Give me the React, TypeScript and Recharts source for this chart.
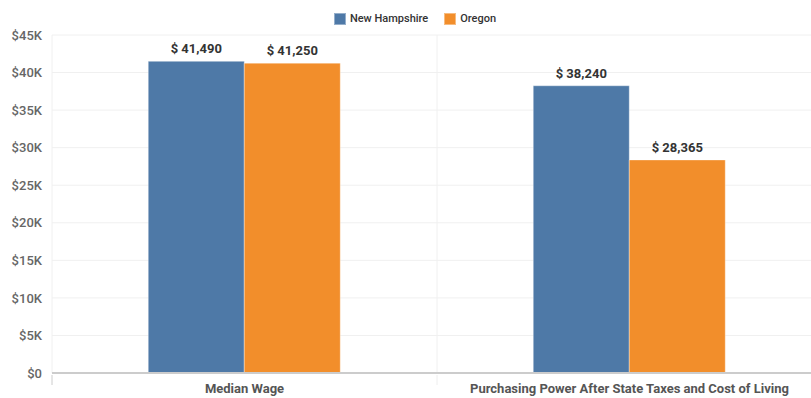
import React from "react";
import { BarChart, Bar, XAxis, YAxis, CartesianGrid, Legend, LabelList } from "recharts";

const categories = ["Median Wage", "Purchasing Power After State Taxes and Cost of Living"];
const newHampshire = [41490, 38240];
const oregon = [41250, 28365];
const yTicks = [0, 5000, 10000, 15000, 20000, 25000, 30000, 35000, 40000, 45000];

const seriesInfo = [
  { key: "nh", name: "New Hampshire", color: "#4e79a7" },
  { key: "or", name: "Oregon", color: "#f28e2b" },
];

const data = categories.map((c, i) => ({ category: c, nh: newHampshire[i], or: oregon[i] }));

const FONT = "Roboto, 'Noto Sans', sans-serif";

const fmtY = (v: number) => (v === 0 ? "$0" : `$${v / 1000}K`);
const fmtVal = (v: number) => `$ ${v.toLocaleString("en-US")}`;

const LegendContent = () => (
  <div style={{ display: "flex", justifyContent: "center", alignItems: "center", fontFamily: FONT, fontSize: 11, fontWeight: 500, color: "#333" }}>
    {seriesInfo.map((s, i) => (
      <div key={s.key} style={{ display: "flex", alignItems: "center", marginRight: i < seriesInfo.length - 1 ? 16 : 0 }}>
        <span style={{ display: "inline-block", width: 12, height: 12, background: s.color, marginRight: 4, boxSizing: "border-box", border: "1px solid rgba(255,255,255,0.4)" }} />
        <span>{s.name}</span>
      </div>
    ))}
  </div>
);

const XTick = (props: any) => {
  const { x, y, payload } = props;
  const half = payload.offset || 0;
  return (
    <g>
      <line x1={x - half} x2={x - half} y1={y - 6} y2={y + 4} stroke={payload.index === 0 ? "#cccccc" : "#eeeeee"} strokeWidth={1} />
      <text x={x} y={y + 12} textAnchor="middle" fontFamily={FONT} fontSize={13} fontWeight={700} fill="#555">
        {payload.value}
      </text>
    </g>
  );
};

export default function App() {
  return (
    <div style={{ position: "absolute", left: 0, top: 0, width: 811, height: 398, overflow: "hidden", background: "#fff" }}>
      <BarChart
        width={830}
        height={398}
        data={data}
        margin={{ top: 35, right: 8, bottom: 0, left: 0 }}
        barCategoryGap="25%"
        barGap={0}
      >
        <CartesianGrid
          stroke="#f0f0f0"
          vertical={true}
          verticalCoordinatesGenerator={({ offset }: any) =>
            categories.map((_, i) => offset.left + (i * offset.width) / categories.length)
          }
        />
        <XAxis
          dataKey="category"
          height={25}
          axisLine={{ stroke: "#cccccc", strokeWidth: 2 }}
          tickLine={false}
          tick={<XTick />}
          interval={0}
        />
        <YAxis
          width={52}
          domain={[0, 45000]}
          ticks={yTicks}
          tickFormatter={fmtY}
          axisLine={false}
          tickLine={false}
          tickMargin={4}
          tick={{ fontFamily: FONT, fontSize: 13, fontWeight: 500, fill: "#666" }}
        />
        <Legend verticalAlign="middle" align="center" wrapperStyle={{ top: 12, left: 0, width: 830 }} content={<LegendContent />} />
        {seriesInfo.map((s) => (
          <Bar key={s.key} dataKey={s.key} name={s.name} fill={s.color} stroke="rgba(255,255,255,0.35)" strokeWidth={1} isAnimationActive={false}>
            <LabelList dataKey={s.key} position="top" offset={8} formatter={(v: any) => fmtVal(Number(v))} style={{ fontFamily: FONT, fontSize: 13, fontWeight: 700, fill: "#333" }} />
          </Bar>
        ))}
      </BarChart>
    </div>
  );
}
